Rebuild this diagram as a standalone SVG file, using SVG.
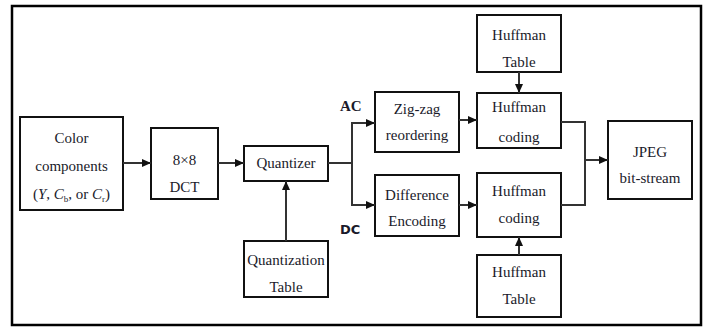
<svg xmlns="http://www.w3.org/2000/svg" width="708" height="327" viewBox="0 0 708 327">
<defs>
<marker id="ah" markerUnits="userSpaceOnUse" markerWidth="9" markerHeight="8" refX="9" refY="4" orient="auto">
<path d="M0,0 L9,4 L0,8 z" fill="#111"/>
</marker>
</defs>
<rect x="0" y="0" width="708" height="327" fill="#fff"/>
<rect x="12" y="6" width="689" height="319" fill="none" stroke="#000" stroke-width="2.5"/>

<g id="nodes" font-family="Liberation Serif" font-size="15" fill="#1a1a2a" text-anchor="middle">
<g id="color">
<rect fill="#fff" stroke="#111" stroke-width="2" x="20" y="117" width="103" height="93"/>
<text x="71.5" y="143">Color</text>
<text x="71.5" y="171">components</text>
<text x="71.5" y="199">(<tspan font-style="italic">Y</tspan>, <tspan font-style="italic">C</tspan><tspan font-size="9" dy="3">b</tspan><tspan dy="-3">, or </tspan><tspan font-style="italic">C</tspan><tspan font-size="9" dy="3">r</tspan><tspan dy="-3">)</tspan></text>
</g>
<g id="dct">
<rect fill="#fff" stroke="#111" stroke-width="2" x="151" y="128" width="67" height="71"/>
<text x="184.5" y="165">8×8</text>
<text x="184.5" y="192">DCT</text>
</g>
<g id="quantizer">
<rect fill="#fff" stroke="#111" stroke-width="2" x="244" y="146" width="84" height="35"/>
<text x="286" y="168">Quantizer</text>
</g>
<g id="qtable">
<rect fill="#fff" stroke="#111" stroke-width="2" x="244" y="241" width="84" height="56"/>
<text x="286" y="265">Quantization</text>
<text x="286" y="292">Table</text>
</g>
<g id="zigzag">
<rect fill="#fff" stroke="#111" stroke-width="2" x="375" y="92" width="84" height="60"/>
<text x="417" y="114">Zig-zag</text>
<text x="417" y="140">reordering</text>
</g>
<g id="diff">
<rect fill="#fff" stroke="#111" stroke-width="2" x="375" y="175" width="84" height="61"/>
<text x="417" y="200">Difference</text>
<text x="417" y="226">Encoding</text>
</g>
<g id="htable1">
<rect fill="#fff" stroke="#111" stroke-width="2" x="477" y="15" width="84" height="57"/>
<text x="519" y="40">Huffman</text>
<text x="519" y="67">Table</text>
</g>
<g id="hcode1">
<rect fill="#fff" stroke="#111" stroke-width="2" x="477" y="93" width="84" height="55"/>
<text x="519" y="112">Huffman</text>
<text x="519" y="142">coding</text>
</g>
<g id="hcode2">
<rect fill="#fff" stroke="#111" stroke-width="2" x="477" y="173" width="84" height="64"/>
<text x="519" y="196">Huffman</text>
<text x="519" y="223">coding</text>
</g>
<g id="htable2">
<rect fill="#fff" stroke="#111" stroke-width="2" x="477" y="255" width="84" height="62"/>
<text x="519" y="277">Huffman</text>
<text x="519" y="304">Table</text>
</g>
<g id="jpeg">
<rect fill="#fff" stroke="#111" stroke-width="2" x="608" y="121" width="84" height="78"/>
<text x="650" y="157">JPEG</text>
<text x="650" y="183">bit-stream</text>
</g>
</g>

<g id="connectors" fill="none" stroke="#333" stroke-width="2">
<line x1="123" y1="163" x2="151" y2="163" marker-end="url(#ah)"/>
<line x1="218" y1="163" x2="244" y2="163" marker-end="url(#ah)"/>
<line x1="286" y1="241" x2="286" y2="181" marker-end="url(#ah)"/>
<polyline points="328,163 352,163"/>
<line x1="352" y1="122" x2="352" y2="206"/>
<line x1="351" y1="123" x2="375" y2="123" marker-end="url(#ah)"/>
<line x1="351" y1="205" x2="375" y2="205" marker-end="url(#ah)"/>
<line x1="459" y1="120" x2="477" y2="120" marker-end="url(#ah)"/>
<line x1="459" y1="205" x2="477" y2="205" marker-end="url(#ah)"/>
<line x1="519" y1="72" x2="519" y2="93" marker-end="url(#ah)"/>
<line x1="519" y1="255" x2="519" y2="237" marker-end="url(#ah)"/>
<polyline points="561,122 585,122 585,205 561,205"/>
<line x1="585" y1="160" x2="608" y2="160" marker-end="url(#ah)"/>
<text x="340" y="111" stroke="none" fill="#1a1a2a" font-family="Liberation Serif" font-size="15" font-weight="bold">AC</text>
<text x="340" y="234" stroke="none" fill="#1a1a2a" font-family="DejaVu Sans" font-size="13" font-weight="bold">DC</text>
</g>
</svg>
